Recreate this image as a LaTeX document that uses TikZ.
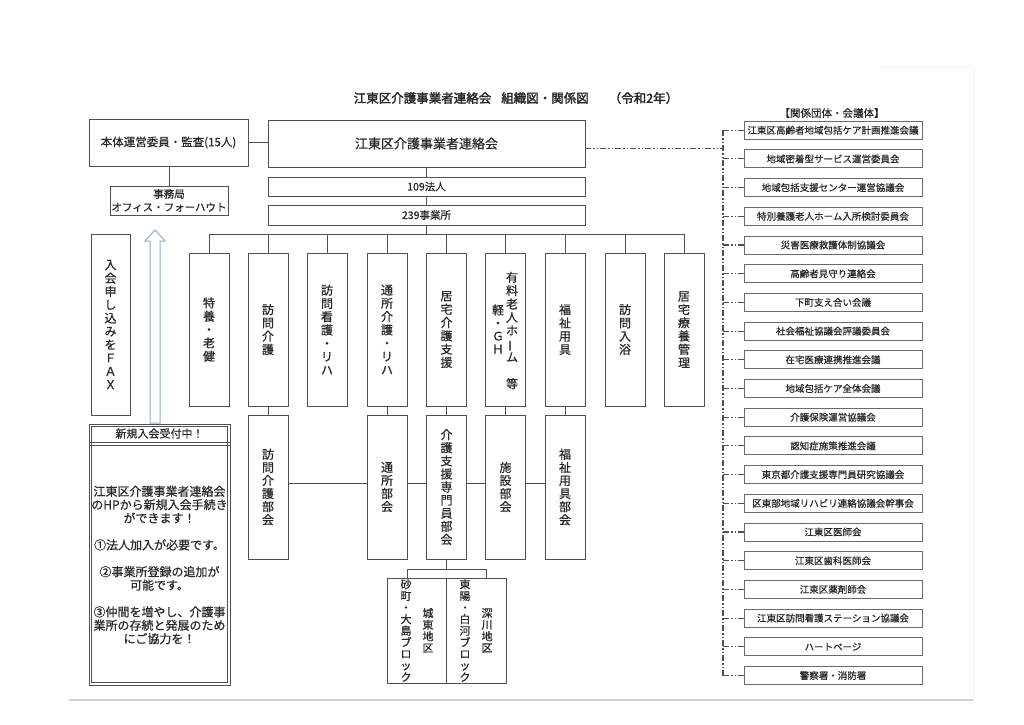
\documentclass[tikz,border=0pt]{standalone}
\usepackage{fontspec}
\setmainfont{Noto Sans CJK JP}[FakeBold=0.5, BoldFont=Noto Sans CJK JP, BoldFeatures={FakeBold=2.2}]
\definecolor{ln}{RGB}{80,80,80}
\definecolor{tx}{RGB}{40,40,40}
\definecolor{arr}{RGB}{135,180,198}
\newcommand\vlong{\rotatebox[origin=c]{90}{ー}}
\tikzset{
  box/.style={draw=ln, line width=0.9pt, inner sep=0pt, text=tx},
  colbox/.style={box, minimum width=40pt, minimum height=153pt, align=center, font=\fontsize{12}{13.3}\selectfont},
  subbox/.style={box, minimum width=40pt, minimum height=144pt, align=center, font=\fontsize{12}{13.1}\selectfont},
  relbox/.style={box, draw=ln!85, minimum width=178pt, minimum height=18pt, font=\fontsize{9.5}{11}\selectfont},
  conn/.style={draw=ln, line width=0.9pt},
  dd/.style={draw=ln, line width=1.1pt, dash pattern=on 6pt off 2pt on 1.5pt off 2pt on 1.5pt off 2pt},
  vt/.style={text=tx, align=center, inner sep=0pt},
}
\begin{document}
\begin{tikzpicture}[x=1pt, y=-1pt]
\useasboundingbox (0,0) rectangle (1024,724);
\fill[white] (0,0) rectangle (1024,724);
% scan edges
\draw[gray!35, line width=1.2pt] (69,700) -- (973,700);
\draw[gray!12, line width=0.8pt] (973,67) -- (973,700);
\draw[gray!8, line width=0.8pt] (880,67) -- (973,67);

% title
\node[text=tx, font=\fontsize{12.5}{14}\selectfont\bfseries] (title) at (516,98)
  {江東区介護事業者連絡会\hspace{10pt}組織図・関係図\hspace{20pt}（令和2年）};

% top boxes
\node[box, minimum width=159pt, minimum height=47pt, font=\fontsize{11.5}{13}\selectfont] (honbu) at (168.5,142.5) {本体運営委員・監査(15人)};
\node[box, minimum width=317pt, minimum height=47pt, font=\fontsize{13}{15}\selectfont] (main) at (426.5,143.5) {江東区介護事業者連絡会};
\node[box, minimum width=118pt, minimum height=29pt, align=center, font=\fontsize{10.5}{13.2}\selectfont] (jimu) at (169,200.5) {事務局\\オフィス・フォーハウト};
\node[box, minimum width=317pt, minimum height=19pt, font=\fontsize{10.5}{12}\selectfont] (h109) at (426.5,186.5) {109法人};
\node[box, minimum width=317pt, minimum height=20pt, font=\fontsize{10.5}{12}\selectfont] (j239) at (426.5,215) {239事業所};

\draw[conn] (honbu.east) -- (honbu.east -| main.west);
\draw[conn] (jimu.north) -- (jimu.north |- honbu.south);
\draw[conn] (main.south) -- (h109.north);
\draw[conn] (h109.south) -- (j239.north);

% upper columns
\node[colbox] (u1) at (209,329.5) {特\\養\\・\\老\\健};
\node[colbox] (u2) at (268,329.5) {訪\\問\\介\\護};
\node[colbox] (u3) at (327,329.5) {訪\\問\\看\\護\\・\\リ\\ハ};
\node[colbox] (u4) at (387,329.5) {通\\所\\介\\護\\・\\リ\\ハ};
\node[colbox] (u5) at (446.5,329.5) {居\\宅\\介\\護\\支\\援};
\node[colbox] (u6) at (505.5,329.5) {};
\node[vt, font=\fontsize{12}{13.3}\selectfont] (u6a) at (512,330.5) {有\\料\\老\\人\\ホ\\\vlong\\ム\\　\\等};
\node[vt, font=\fontsize{12}{13}\selectfont] (u6b) at (498,329) {軽\\・\\Ｇ\\Ｈ};
\node[colbox] (u7) at (565,329.5) {福\\祉\\用\\具};
\node[colbox] (u8) at (625,329.5) {訪\\問\\入\\浴};
\node[colbox] (u9) at (684,329.5) {居\\宅\\療\\養\\管\\理};

\coordinate (bus) at (427,234.5);
\draw[conn] (u1.north) -- (u1.north |- bus) -- (u9.north |- bus) -- (u9.north);
\foreach \i in {2,...,8} \draw[conn] (u\i.north) -- (u\i.north |- bus);
\draw[conn] (j239.south) -- (j239.south |- bus);

% lower columns
\node[subbox] (l2) at (268,487) {訪\\問\\介\\護\\部\\会};
\node[subbox] (l4) at (387,487) {通\\所\\部\\会};
\node[subbox] (l5) at (446.5,487) {介\\護\\支\\援\\専\\門\\員\\部\\会};
\node[subbox] (l6) at (505.5,487) {施\\設\\部\\会};
\node[subbox] (l7) at (565,487) {福\\祉\\用\\具\\部\\会};
\foreach \a/\b in {u2/l2,u4/l4,u5/l5,u6/l6,u7/l7} \draw[conn] (\a.south) -- (\b.north);
\foreach \a/\b in {l2/l4,l4/l5,l5/l6,l6/l7} \draw[conn] ([yshift=4pt]\a.east) -- ([yshift=4pt]\b.west);

% bottom blocks
\node[box, minimum width=59pt, minimum height=105pt] (bl) at (416.5,630.5) {};
\node[box, minimum width=60pt, minimum height=105pt] (br) at (476,630.5) {};
\node[vt, font=\fontsize{11}{11.6}\selectfont] (t1) at (406,630.5) {砂\\町\\・\\大\\島\\ブ\\ロ\\ッ\\ク};
\node[vt, font=\fontsize{11}{11.6}\selectfont] (t2) at (428,630.5) {城\\東\\地\\区};
\node[vt, font=\fontsize{11}{11.6}\selectfont] (t3) at (465,630.5) {東\\陽\\・\\白\\河\\ブ\\ロ\\ッ\\ク};
\node[vt, font=\fontsize{11}{11.6}\selectfont] (t4) at (487,630.5) {深\\川\\地\\区};
\coordinate (sb) at (446.5,569);
\draw[conn] (l5.south) -- (sb);
\draw[conn] ([xshift=-9.5pt]bl.north) |- (sb);
\draw[conn] ([xshift=10pt]br.north) |- (sb);

% left side
\node[box, minimum width=39pt, minimum height=181pt, align=center, font=\fontsize{12}{13.3}\selectfont] (fax) at (110.5,324.5) {入\\会\\申\\し\\込\\み\\を\\Ｆ\\Ａ\\Ｘ};
\draw[arr, line width=1pt, fill=white] (150,423) -- (150,241) -- (145,241) -- (155,230) -- (165,241) -- (160,241) -- (160,423) -- cycle;
\node[box, line width=0.8pt, minimum width=141pt, minimum height=261pt, fill=white] (newbox) at (159.5,554.5) {};
\draw[ln, line width=0.8pt] ([shift={(2.6pt,-2.6pt)}]newbox.north west) rectangle ([shift={(-2.6pt,2.6pt)}]newbox.south east);
\coordinate (hs1) at (0,442.5);
\coordinate (hs2) at (0,445.5);
\draw[ln, line width=0.8pt] (newbox.west |- hs1) -- (newbox.east |- hs1);
\draw[ln, line width=0.8pt] (newbox.west |- hs2) -- (newbox.east |- hs2);
\node[text=tx, font=\fontsize{11}{13}\selectfont] (nh) at (159.5,433.5) {新規入会受付中！};
\node[vt, font=\fontsize{12}{13.4}\selectfont] (nb) at (159.5,565) {江東区介護事業者連絡会\\のHPから新規入会手続き\\ができます！\\　\\①法人加入が必要です。\\　\\②事業所登録の追加が\\可能です。\\　\\③仲間を増やし、介護事\\業所の存続と発展のため\\にご協力を！};

% right side
\node[text=tx, font=\fontsize{10.5}{12}\selectfont] (relt) at (832,113) {【関係団体・会議体】};
\coordinate (trunk) at (723,130.2);
\foreach \t [count=\i] in {江東区高齢者地域包括ケア計画推進会議, 地域密着型サービス運営委員会, 地域包括支援センター運営協議会, 特別養護老人ホーム入所検討委員会, 災害医療救護体制協議会, 高齢者見守り連絡会, 下町支え合い会議, 社会福祉協議会評議委員会, 在宅医療連携推進会議, 地域包括ケア全体会議, 介護保険運営協議会, 認知症施策推進会議, 東京都介護支援専門員研究協議会, 区東部地域リハビリ連絡協議会幹事会, 江東区医師会, 江東区歯科医師会, 江東区薬剤師会, 江東区訪問看護ステーション協議会, ハートページ, 警察署・消防署} {
  \node[relbox] (r\i) at (833,{130.2+(\i-1)*28.7}) {\t};
  \draw[dd] (r\i.west -| trunk) -- (r\i.west);
}
\draw[dd] (r1.west -| trunk) -- (r20.west -| trunk);
\draw[dd] ([yshift=-5pt]main.east) -- ([yshift=-5pt]main.east -| trunk);
\end{tikzpicture}
\end{document}
